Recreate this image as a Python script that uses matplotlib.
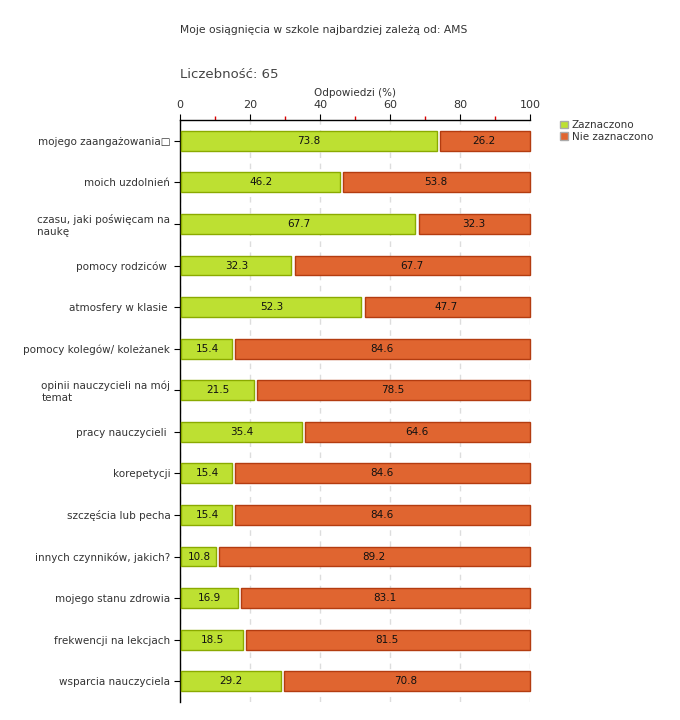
import matplotlib
matplotlib.use('Agg')
import matplotlib.pyplot as plt
from matplotlib.patches import Patch

#----- dane wykresu -----
kategorie = ['mojego zaangażowania\u25a1', 'moich uzdolnień', 'czasu, jaki poświęcam na\nnaukę',
             'pomocy rodziców ', 'atmosfery w klasie ', 'pomocy kolegów/ koleżanek',
             'opinii nauczycieli na mój\ntemat', 'pracy nauczycieli ', 'korepetycji',
             'szczęścia lub pecha', 'innych czynników, jakich?', 'mojego stanu zdrowia',
             'frekwencji na lekcjach', 'wsparcia nauczyciela']
zaznaczono = [73.8, 46.2, 67.7, 32.3, 52.3, 15.4, 21.5, 35.4, 15.4, 15.4, 10.8, 16.9, 18.5, 29.2]
nie_zaznaczono = [26.2, 53.8, 32.3, 67.7, 47.7, 84.6, 78.5, 64.6, 84.6, 84.6, 89.2, 83.1, 81.5, 70.8]
serie = ['Zaznaczono', 'Nie zaznaczono']

zielony, zielony_kr = '#bde032', '#8aaa00'
pomar, pomar_kr = '#e06530', '#b33c10'
gap = 0.45  # pol odstepu miedzy segmentami
off = 0.4   # odsuniecie od osi

fig = plt.figure(figsize=(6.8, 7.2), dpi=100)
ax = fig.add_axes([180/680, 1 - 702/720, 350/680, 582/720])

y = list(range(len(kategorie)))
ax.barh(y, [v - gap - off for v in zaznaczono], left=off, height=0.48,
        color=zielony, edgecolor=zielony_kr, linewidth=1, zorder=3, clip_on=False)
ax.barh(y, [v - gap for v in nie_zaznaczono], left=[100 - v + gap for v in nie_zaznaczono],
        height=0.48, color=pomar, edgecolor=pomar_kr, linewidth=1, zorder=3, clip_on=False)

for i in y:
    ax.text(zaznaczono[i] / 2, i, '%.1f' % zaznaczono[i], ha='center', va='center',
            fontsize=7.5, color='#111111', zorder=4)
    ax.text(100 - nie_zaznaczono[i] / 2, i, '%.1f' % nie_zaznaczono[i], ha='center', va='center',
            fontsize=7.5, color='#111111', zorder=4)

ax.set_xlim(0, 100)
ax.set_ylim(len(kategorie) - 0.5, -0.5)
ax.set_yticks(y)
ax.set_yticklabels(kategorie, fontsize=7.5, color='#333333')
for t in ax.get_yticklabels():
    t.set_multialignment('left')

ax.xaxis.tick_top()
ax.xaxis.set_label_position('top')
ax.set_xticks([0, 20, 40, 60, 80, 100])
ax.set_xticks([10, 30, 50, 70, 90], minor=True)
ax.tick_params(axis='x', which='major', labelsize=8, labelcolor='#333333', length=4, pad=3)
ax.tick_params(axis='x', which='minor', color='#dd0000', length=3, width=1)
ax.tick_params(axis='y', length=4, pad=3)
ax.set_xlabel('Odpowiedzi (%)', fontsize=7.5, color='#333333', labelpad=3)

ax.grid(axis='x', which='major', linestyle=(0, (4, 4)), color='#dddddd', linewidth=1, zorder=0)
for s in ['right', 'bottom']:
    ax.spines[s].set_visible(False)
ax.spines['top'].set_linewidth(1)
ax.spines['left'].set_linewidth(1)

fig.text(180/680, 1 - 30/720, 'Moje osiągnięcia w szkole najbardziej zależą od: AMS',
         fontsize=7.75, color='#333333', va='center')
fig.text(180/680, 1 - 75/720, 'Liczebność: 65', fontsize=9.5, color='#444444', va='center')

uchwyty = [Patch(facecolor=zielony, edgecolor='#aaaaaa'), Patch(facecolor=pomar, edgecolor='#aaaaaa')]
fig.legend(uchwyty, serie, loc='upper left', bbox_to_anchor=(555/680, 1 - 115/720),
           frameon=False, fontsize=7.5, handlelength=0.7, handleheight=0.7,
           handletextpad=0.4, labelspacing=0.15, borderpad=0, labelcolor='#333333')

fig.savefig('out.png', dpi=100)
